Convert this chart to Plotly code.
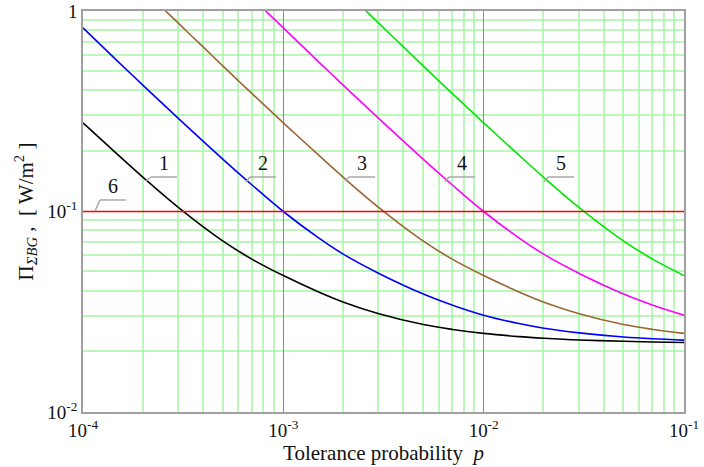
import math
import plotly.graph_objects as go

# ---- data ----
p1 = [1e-4, 1.5e-4, 2e-4, 3e-4, 5e-4, 7e-4, 1e-3, 1.5e-3, 2e-3, 3e-3, 5e-3, 7e-3,
      1e-2, 1.5e-2, 2e-2, 3e-2, 5e-2, 7e-2, 1e-1]
y1 = [0.2767, 0.191, 0.1476, 0.1045, 0.0711, 0.0577, 0.0479, 0.0397, 0.0353, 0.03091, 0.0273, 0.0258,
      0.02466, 0.02377, 0.02333, 0.02287, 0.02252, 0.02236, 0.02223]

p2 = [1e-4, 1.5e-4, 2e-4, 3e-4, 5e-4, 7e-4, 1e-3, 1.5e-3, 2e-3, 3e-3, 5e-3, 7e-3,
      1e-2, 1.5e-2, 2e-2, 3e-2, 5e-2, 7e-2, 1e-1]
y2 = [0.824, 0.558, 0.4246, 0.2904, 0.182, 0.1352, 0.1, 0.0738, 0.0611, 0.0491, 0.03876, 0.0341,
      0.0304, 0.02761, 0.02617, 0.02482, 0.02366, 0.02318, 0.02284]

p3 = [2.5e-4, 3e-4, 4e-4, 5e-4, 7e-4, 1e-3, 1.5e-3, 2e-3, 3e-3, 5e-3, 7e-3,
      1e-2, 1.5e-2, 2e-2, 3e-2, 5e-2, 7e-2, 1e-1]
y3 = [1.033, 0.867, 0.658, 0.531, 0.386, 0.2767, 0.191, 0.1476, 0.1045, 0.0711, 0.0577,
      0.0479, 0.0397, 0.0353, 0.03091, 0.0273, 0.0258, 0.02466]

p4 = [8e-4, 1e-3, 1.5e-3, 2e-3, 3e-3, 5e-3, 7e-3,
      1e-2, 1.5e-2, 2e-2, 3e-2, 5e-2, 7e-2, 1e-1]
y4 = [1.02, 0.824, 0.558, 0.4246, 0.2904, 0.182, 0.1352,
      0.1, 0.0738, 0.0611, 0.0491, 0.03876, 0.0341, 0.0304]

p5 = [2.5e-3, 3e-3, 4e-3, 5e-3, 7e-3, 1e-2, 1.5e-2, 2e-2, 3e-2, 5e-2, 7e-2, 1e-1]
y5 = [1.033, 0.867, 0.658, 0.531, 0.386, 0.2767, 0.191, 0.1476, 0.1045, 0.0711, 0.0577, 0.0479]

p6 = [1e-4, 1e-1]
y6 = [0.1, 0.1]

series = [
    ("1", p1, y1, "#000000"),
    ("2", p2, y2, "#0000ff"),
    ("3", p3, y3, "#996633"),
    ("4", p4, y4, "#ff00ff"),
    ("5", p5, y5, "#00e600"),
    ("6", p6, y6, "#ff0000"),
]

x_tickvals = [1e-4, 1e-3, 1e-2, 1e-1]
x_ticktext = ["10<sup>-4</sup>", "10<sup>-3</sup>", "10<sup>-2</sup>", "10<sup>-1</sup>"]
y_tickvals = [1e-2, 1e-1, 1]
y_ticktext = ["10<sup>-2</sup>", "10<sup>-1</sup>", "1"]

X_RANGE = (-4, -1)
Y_RANGE = (-2, 0)
x_minor = [m * 10.0 ** e for e in (-4, -3, -2) for m in range(2, 10)]
y_minor = [m * 10.0 ** e for e in (-2, -1) for m in range(2, 10)]
x_major = [1e-3, 1e-2]
y_major = [1e-1]

FONT = "Liberation Serif"
W, H = 704, 467
L, R, T, B = 83, 20, 11, 55

fig = go.Figure()
for name, px, py, col in series:
    fig.add_trace(go.Scatter(x=px, y=py, mode="lines", name=name,
                             line=dict(color=col, width=1.6, shape="spline", smoothing=1.0),
                             showlegend=False, hoverinfo="skip", cliponaxis=True))

pw, ph = W - L - R, H - T - B


def pxp(x):
    return (x - L) / pw


def pyp(y):
    return (H - B - y) / ph


# ---- grid lines drawn as shapes ----
def vline(v, color, width, off):
    frac = (math.log10(v) - X_RANGE[0]) / (X_RANGE[1] - X_RANGE[0])
    px = math.floor(L + pw * frac) + off
    fig.add_shape(type="line", xref="paper", yref="paper", layer="below",
                  x0=pxp(px), x1=pxp(px), y0=0, y1=1,
                  line=dict(color=color, width=width))


def hline(v, color, width, off):
    frac = (math.log10(v) - Y_RANGE[0]) / (Y_RANGE[1] - Y_RANGE[0])
    py = math.floor(T + ph * (1 - frac)) + off
    fig.add_shape(type="line", xref="paper", yref="paper", layer="below",
                  x0=0, x1=1, y0=pyp(py), y1=pyp(py),
                  line=dict(color=color, width=width))


GREEN = "#a6f6a6"
GREY = "#8a8a8a"
for v in x_minor:
    vline(v, GREEN, 1.5, 0)
for v in y_minor:
    hline(v, GREEN, 1.5, 0)
for v in x_major:
    vline(v, GREY, 1, 0.5)
for v in y_major:
    hline(v, GREY, 1, 0.5)

# curve labels with leader lines (pixel positions)
labels = [
    ("1", 151, 177, 146, 181),
    ("2", 250, 177, 246, 182),
    ("3", 349, 177, 345, 181),
    ("4", 449, 177, 445, 182),
    ("5", 548, 177, 544, 182),
    ("6", 100, 200, 95, 211),
]
for txt, xa, ya, xc, yc in labels:
    fig.add_shape(type="line", xref="paper", yref="paper",
                  x0=pxp(xa), y0=pyp(ya), x1=pxp(xa + 26), y1=pyp(ya),
                  line=dict(color="#a8a8a8", width=1.5))
    fig.add_shape(type="line", xref="paper", yref="paper",
                  x0=pxp(xa), y0=pyp(ya), x1=pxp(xc), y1=pyp(yc),
                  line=dict(color="#a8a8a8", width=1.5))
    fig.add_annotation(xref="paper", yref="paper", x=pxp(xa + 13), y=pyp(ya - 1),
                       text=txt, showarrow=False, xanchor="center", yanchor="bottom",
                       font=dict(family=FONT, size=20, color="#111111"))

axis_common = dict(
    type="log", showline=True, mirror=True, linecolor="#a0a0a0", linewidth=1.5,
    showgrid=False, ticks="", zeroline=False,
    tickfont=dict(family=FONT, size=19, color="#111111"), tickmode="array",
    automargin=False,
)

fig.update_layout(
    width=W, height=H,
    margin=dict(l=L, r=R, t=T, b=B),
    paper_bgcolor="white", plot_bgcolor="white",
    xaxis=dict(axis_common, range=list(X_RANGE), tickvals=x_tickvals, ticktext=x_ticktext,
               title=dict(text="Tolerance probability  <i>p</i>",
                          font=dict(family=FONT, size=21, color="#111111"), standoff=6)),
    yaxis=dict(axis_common, range=list(Y_RANGE), tickvals=y_tickvals, ticktext=y_ticktext,
               title=dict(text="Π<sub><i>ΣBG</i></sub> ,  [ W/m<sup>2</sup> ]",
                          font=dict(family=FONT, size=21, color="#111111"), standoff=8)),
)

fig.write_html("out.html", config={"displayModeBar": False},
               post_script="document.body.style.margin='0px';document.body.style.overflow='hidden';")
